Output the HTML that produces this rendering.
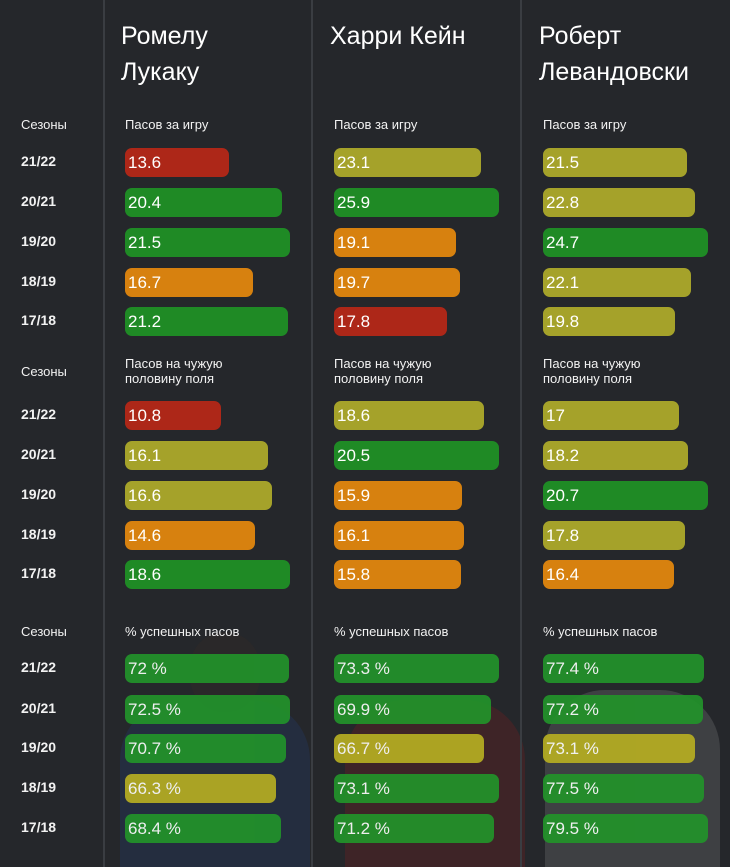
<!DOCTYPE html>
<html><head><meta charset="utf-8">
<style>
body{margin:0;background:#25272b;}
#wrap{position:relative;width:730px;height:867px;overflow:hidden;background:#25272b;font-family:"Liberation Sans","DejaVu Sans",sans-serif;color:#fff;}
.sep{position:absolute;top:0;width:2px;height:867px;background:#3a3d42;}
.name{position:absolute;font-size:25px;line-height:36px;color:#fff;}
.lbl{position:absolute;font-size:13px;line-height:15px;color:#f2f2f2;}
.season{position:absolute;font-size:14px;font-weight:bold;color:#f2f2f2;}
.bar{position:absolute;height:29px;border-radius:7px;font-size:17px;line-height:29px;padding-left:3px;box-sizing:border-box;color:#fff;}
.blob{position:absolute;opacity:.25;}
</style></head><body>
<div id="wrap">
<div class="blob" style="left:120px;top:700px;width:190px;height:170px;background:#23407a;border-radius:60px 60px 0 0;"></div>
<div class="blob" style="left:190px;top:632px;width:70px;height:80px;background:#3a2a22;border-radius:35px;"></div>
<div class="blob" style="left:345px;top:700px;width:180px;height:170px;background:#8a1b1b;border-radius:60px 60px 0 0;"></div>
<div class="blob" style="left:545px;top:690px;width:175px;height:180px;background:#cfcfcf;border-radius:60px 60px 0 0;opacity:.15;"></div>
<div class="sep" style="left:103px"></div>
<div class="sep" style="left:311px"></div>
<div class="sep" style="left:520px"></div>
<div class="name" style="left:121px;top:18px">Ромелу<br>Лукаку</div>
<div class="name" style="left:330px;top:18px">Харри Кейн</div>
<div class="name" style="left:539px;top:18px">Роберт<br>Левандовски</div>
</div>
<script>
const seasons=["21/22","20/21","19/20","18/19","17/18"];
const sectionTitles=["Пасов за игру","Пасов на чужую\nполовину поля","% успешных пасов"];
const lukakuPasses=[13.6,20.4,21.5,16.7,21.2];
const kanePasses=[23.1,25.9,19.1,19.7,17.8];
const lewaPasses=[21.5,22.8,24.7,22.1,19.8];
const lukakuHalf=[10.8,16.1,16.6,14.6,18.6];
const kaneHalf=[18.6,20.5,15.9,16.1,15.8];
const lewaHalf=[17,18.2,20.7,17.8,16.4];
const lukakuPct=[72,72.5,70.7,66.3,68.4];
const kanePct=[73.3,69.9,66.7,73.1,71.2];
const lewaPct=[77.4,77.2,73.1,77.5,79.5];
const lukakuPassesC=["r","g","g","o","g"],kanePassesC=["y","g","o","o","r"],lewaPassesC=["y","y","g","y","y"];
const lukakuHalfC=["r","y","y","o","g"],kaneHalfC=["y","g","o","o","o"],lewaHalfC=["y","y","g","y","o"];
const lukakuPctC=["G","G","G","Y","G"],kanePctC=["G","G","Y","G","G"],lewaPctC=["G","G","Y","G","G"];
const palette={r:"#ad2718",g:"#1f8a25",y:"#a5a22a",o:"#d7810f",G:"#22932a",Y:"#b6ae22"};
const sections=[
 {top:117,rows:[162,202,242,282,321],data:[[lukakuPasses,lukakuPassesC],[kanePasses,kanePassesC],[lewaPasses,lewaPassesC]],suf:""},
 {top:356,rows:[415,455,495,535,574],data:[[lukakuHalf,lukakuHalfC],[kaneHalf,kaneHalfC],[lewaHalf,lewaHalfC]],suf:""},
 {top:624,rows:[668,709,748,788,828],data:[[lukakuPct,lukakuPctC],[kanePct,kanePctC],[lewaPct,lewaPctC]],suf:" %"}
];
const colX=[125,334,543];
const maxW=165;
const wrap=document.getElementById('wrap');
sections.forEach((s,si)=>{
 const h=document.createElement('div');h.className='lbl';h.style.left='21px';h.style.top=(s.top+(si==1?8:0))+'px';h.textContent='Сезоны';
 
 
 wrap.appendChild(h);
 seasons.forEach((se,i)=>{
  const d=document.createElement('div');d.className='season';d.style.left='21px';d.style.top=(s.rows[i]-9)+'px';d.textContent=se;
  
  
  wrap.appendChild(d);
 });
 s.data.forEach(([vals,cols],ci)=>{
  const t=document.createElement('div');t.className='lbl';t.style.left=colX[ci]+'px';t.style.top=s.top+'px';t.style.whiteSpace='pre';t.textContent=sectionTitles[si];
  
  
  wrap.appendChild(t);
  const mx=Math.max(...vals);
  vals.forEach((v,i)=>{
   const b=document.createElement('div');b.className='bar';
   b.style.left=colX[ci]+'px';b.style.top=(s.rows[i]-14)+'px';
   b.style.width=(v/mx*maxW)+'px';b.style.background=palette[cols[i]];
   if(si==2)b.style.opacity=0.92;
   b.textContent=v+s.suf;
   
   
   wrap.appendChild(b);
  });
 });
});
</script>
</body></html>
